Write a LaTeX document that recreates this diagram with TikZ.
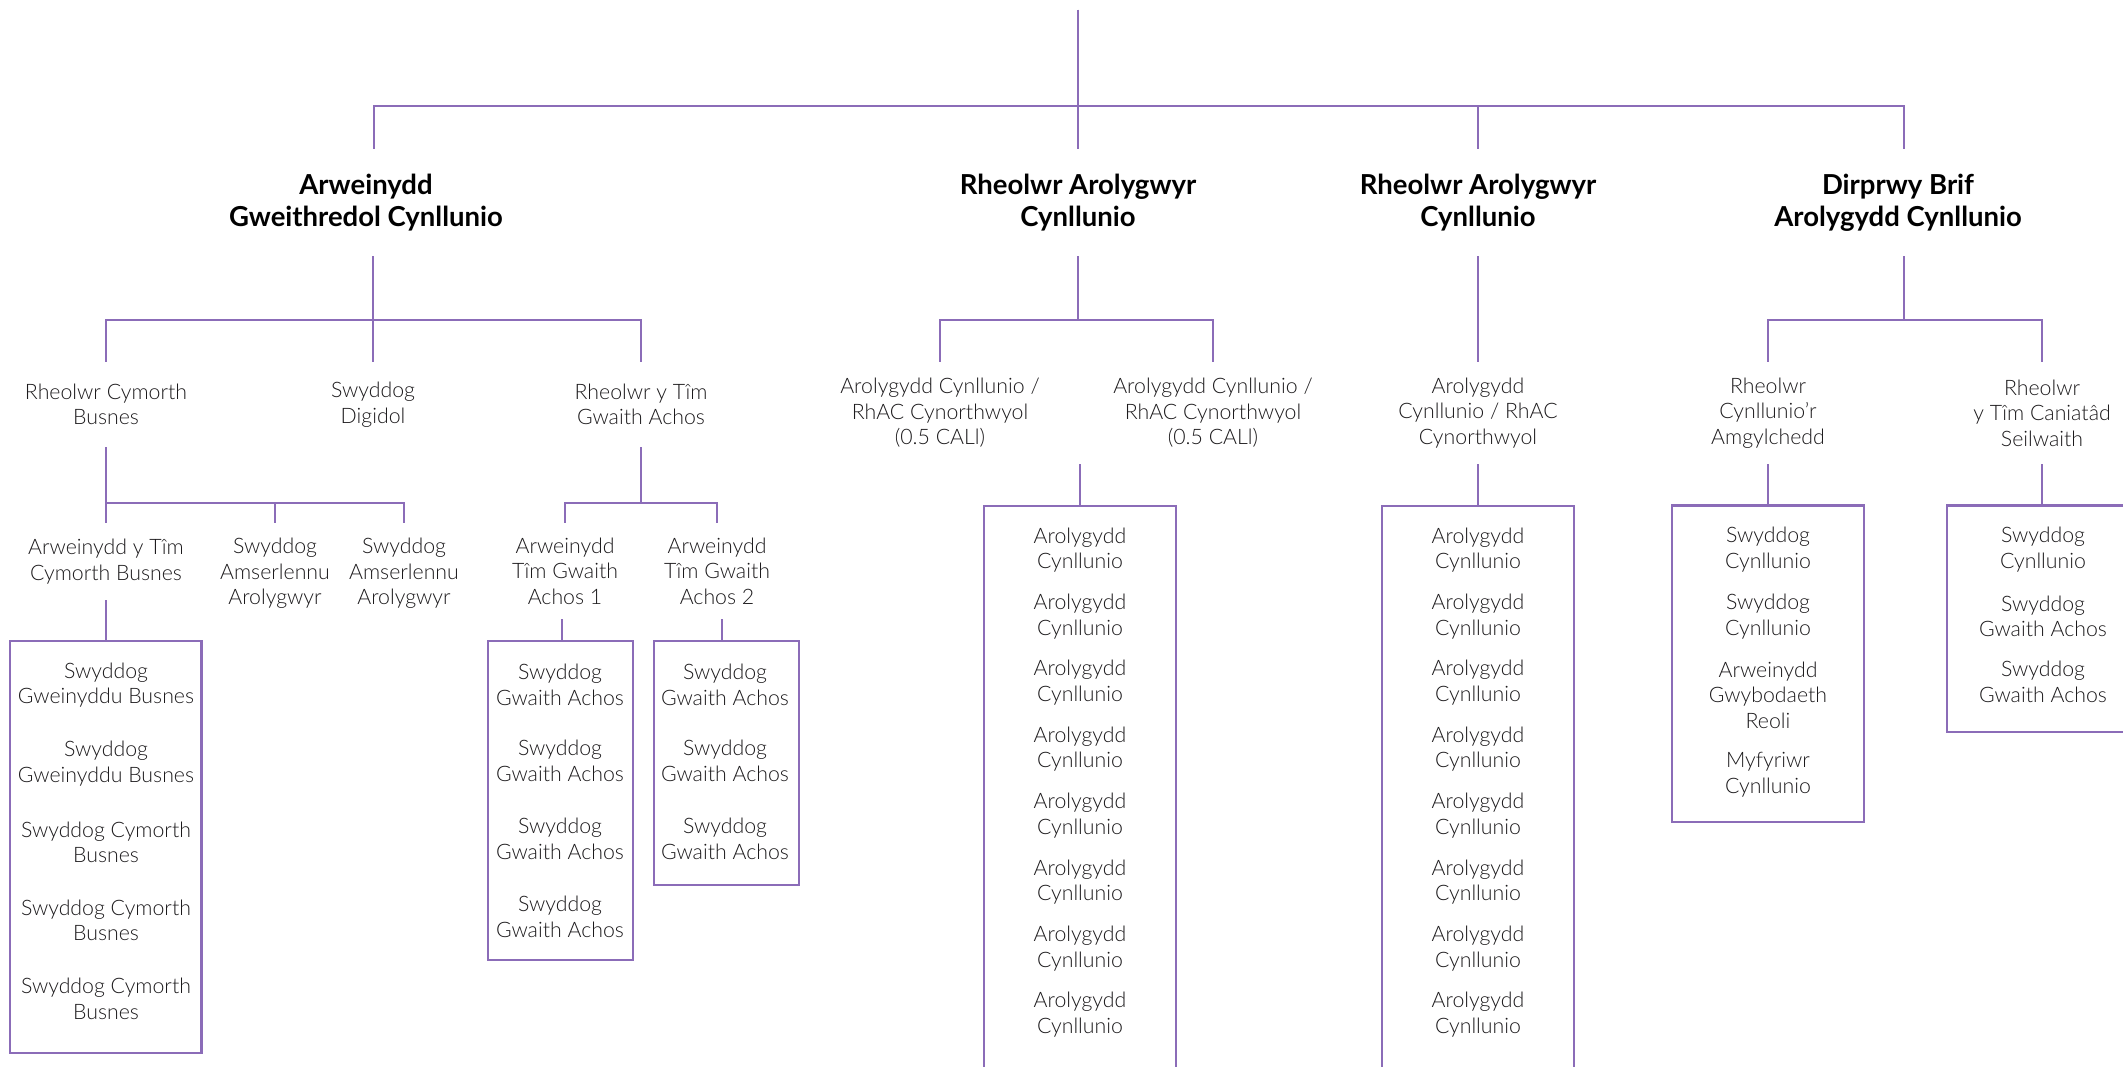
\documentclass[tikz,border=0pt]{standalone}
\usepackage{fontspec}
\setmainfont{Lato}[UprightFont={* Light}, BoldFont={* Bold}]
\definecolor{lineC}{RGB}{139,108,184}
\definecolor{textC}{RGB}{28,26,28}
\newcommand\regtext{\fontsize{21.3}{25.5}\selectfont}
\newcommand\bldtext{\fontsize{27.5}{32}\selectfont\bfseries}
\tikzset{
  conn/.style={draw=lineC, line width=2.3pt},
  lab/.style={font=\regtext, text=textC, align=center, inner sep=0pt},
  ttl/.style={font=\bldtext, text=black, align=center, inner sep=0pt},
  boxS/.style={draw=lineC, line width=2.3pt, rectangle, inner sep=0pt},
}
\begin{document}
\begin{tikzpicture}[x=1pt, y=-1pt]
\useasboundingbox (0,0) rectangle (2123,1067);
\clip (0,0) rectangle (2123,1067);

% ---------- level 1 ----------
\coordinate (root) at (1078,10);
\node[ttl, minimum height=107] (t1) at (366,202.5) {Arweinydd\\Gweithredol Cynllunio};
\node[ttl, minimum height=107] (t2) at (1078,202.5) {Rheolwr Arolygwyr\\Cynllunio};
\node[ttl, minimum height=107] (t3) at (1478,202.5) {Rheolwr Arolygwyr\\Cynllunio};
\node[ttl, minimum height=107] (t4) at (1898,202.5) {Dirprwy Brif\\Arolygydd Cynllunio};

\draw[conn] (root) -- (t2.north);
\draw[conn] (root) -- ++(0,96) -| ([xshift=8pt]t1.north);
\draw[conn] (root) -- ++(0,96) -| (t3.north);
\draw[conn] (root) -- ++(0,96) -| ([xshift=6pt]t4.north);

% ---------- level 2 ----------
\node[lab, minimum height=85] (rcb) at (106,404.5) {Rheolwr Cymorth\\Busnes};
\node[lab, minimum height=85] (sd) at (373,404.5) {Swyddog\\Digidol};
\node[lab, minimum height=85] (rtga) at (641,404.5) {Rheolwr y Tîm\\Gwaith Achos};
\node[lab, minimum height=102] (acr1) at (940,413) {Arolygydd Cynllunio /\\RhAC Cynorthwyol\\(0.5 CALl)};
\node[lab, minimum height=102] (acr2) at (1213,413) {Arolygydd Cynllunio /\\RhAC Cynorthwyol\\(0.5 CALl)};
\node[lab, minimum height=102] (acr3) at (1478,413) {Arolygydd\\Cynllunio / RhAC\\Cynorthwyol};
\node[lab, minimum height=102] (rca) at (1768,413) {Rheolwr\\Cynllunio’r\\Amgylchedd};
\node[lab, minimum height=102] (rtcs) at (2042,413) {Rheolwr\\y Tîm Caniatâd\\Seilwaith};

\draw[conn] ([xshift=7pt]t1.south) -- ++(0,64) -| (rcb.north);
\draw[conn] ([xshift=7pt]t1.south) -- (sd.north);
\draw[conn] ([xshift=7pt]t1.south) -- ++(0,64) -| (rtga.north);
\draw[conn] (t2.south) -- ++(0,64) -| (acr1.north);
\draw[conn] (t2.south) -- ++(0,64) -| (acr2.north);
\draw[conn] (t3.south) -- (acr3.north);
\draw[conn] ([xshift=6pt]t4.south) -- ++(0,64) -| (rca.north);
\draw[conn] ([xshift=6pt]t4.south) -- ++(0,64) -| (rtcs.north);

% ---------- level 3 ----------
\node[lab, minimum height=77] (aytcb) at (106,561.5) {Arweinydd y Tîm\\Cymorth Busnes};
\node[lab, minimum height=101] (sa1) at (275,573.5) {Swyddog\\Amserlennu\\Arolygwyr};
\node[lab, minimum height=101] (sa2) at (404,573.5) {Swyddog\\Amserlennu\\Arolygwyr};
\node[lab, minimum height=96] (atga1) at (565,571) {Arweinydd\\Tîm Gwaith\\Achos 1};
\node[lab, minimum height=96] (atga2) at (717,571) {Arweinydd\\Tîm Gwaith\\Achos 2};

\draw[conn] (rcb.south) -- ++(0,56) -| (aytcb.north);
\draw[conn] (rcb.south) -- ++(0,56) -| (sa1.north);
\draw[conn] (rcb.south) -- ++(0,56) -| (sa2.north);
\draw[conn] (rtga.south) -- ++(0,56) -| (atga1.north);
\draw[conn] (rtga.south) -- ++(0,56) -| (atga2.north);

% ---------- boxes ----------
\node[boxS, minimum width=191.6, minimum height=412] (boxL) at (105.8,847) {};
\node[boxS, minimum width=145, minimum height=319] (boxG1) at (560.5,800.5) {};
\node[boxS, minimum width=145, minimum height=244] (boxG2) at (726.5,763) {};
\node[boxS, minimum width=192, minimum height=594] (boxA) at (1080,803) {};
\node[boxS, minimum width=192, minimum height=594] (boxB) at (1478,803) {};
\node[boxS, minimum width=192.5, minimum height=316.5] (boxC) at (1768,663.75) {};
\node[boxS, minimum width=192, minimum height=226.5] (boxD) at (2043,618.75) {};

\coordinate (stubA) at (1080,464);
\draw[conn] (aytcb.south) -- (aytcb.south |- boxL.north);
\draw[conn] (atga1.south) ++(-3,0) coordinate (g1top) -- (g1top |- boxG1.north);
\draw[conn] (atga2.south) ++(5,0) coordinate (g2top) -- (g2top |- boxG2.north);
\draw[conn] (stubA) -- (boxA.north);
\draw[conn] (acr3.south) -- (boxB.north);
\draw[conn] (rca.south) -- (boxC.north);
\draw[conn] (rtcs.south) -- (rtcs.south |- boxD.north);

% ---------- box items ----------
\node[lab] (l1) at (106,685) {Swyddog\\Gweinyddu Busnes};
\node[lab] (l2) at (106,763.5) {Swyddog\\Gweinyddu Busnes};
\node[lab] (l3) at (106,842.5) {Swyddog Cymorth\\Busnes};
\node[lab] (l4) at (106,920.5) {Swyddog Cymorth\\Busnes};
\node[lab] (l5) at (106,999) {Swyddog Cymorth\\Busnes};

\foreach \i/\yy in {1/685,2/761,3/839,4/917}
  \node[lab] (ga\i) at (560,\yy) {Swyddog\\Gwaith Achos};
\foreach \i/\yy in {1/685,2/761,3/839}
  \node[lab] (gb\i) at (725,\yy) {Swyddog\\Gwaith Achos};

\foreach \i in {1,...,8}{
  \node[lab] (pa\i) at (1080,{550+66.4*(\i-1)}) {Arolygydd\\Cynllunio};
  \node[lab] (pb\i) at (1478,{550+66.4*(\i-1)}) {Arolygydd\\Cynllunio};
}

\node[lab] (c1) at (1768,549.5) {Swyddog\\Cynllunio};
\node[lab] (c2) at (1768,616.5) {Swyddog\\Cynllunio};
\node[lab] (c3) at (1768,695) {Arweinydd\\Gwybodaeth\\Reoli};
\node[lab] (c4) at (1768,774.5) {Myfyriwr\\Cynllunio};

\node[lab] (d1) at (2043,549.5) {Swyddog\\Cynllunio};
\node[lab] (d2) at (2043,616.5) {Swyddog\\Gwaith Achos};
\node[lab] (d3) at (2043,682) {Swyddog\\Gwaith Achos};
\end{tikzpicture}
\end{document}
